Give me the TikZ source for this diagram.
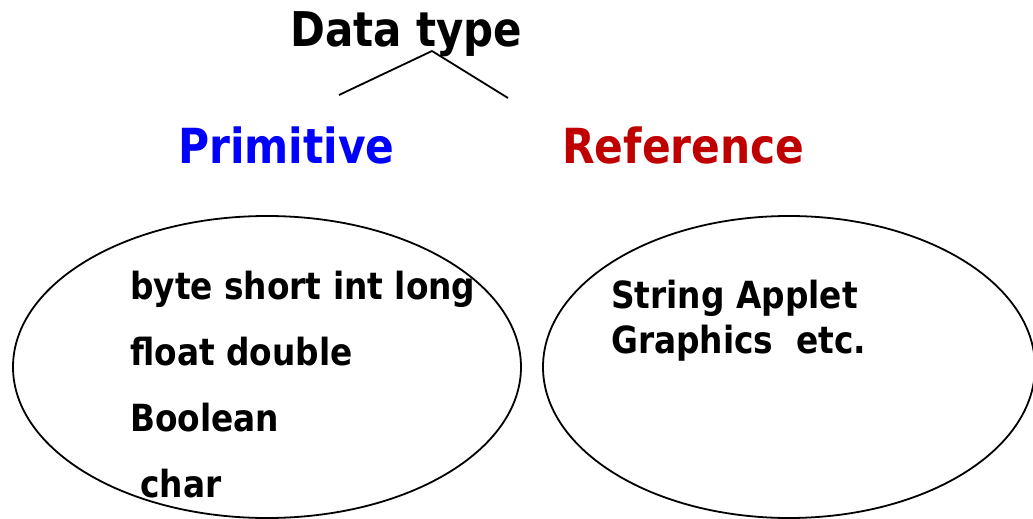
\documentclass[tikz,border=0pt]{standalone}
\usepackage{fontspec}
\usepackage{graphicx}
\setmainfont{DejaVu Sans}
\definecolor{primblue}{RGB}{0,0,255}
\definecolor{refred}{RGB}{192,0,0}
% taller glyph proportions for all labels
\newcommand{\tallbox}[1]{\scalebox{1}[1.14]{#1}}
\begin{document}
\begin{tikzpicture}[x=1pt,y=-1pt,
  title/.style={inner sep=0pt,anchor=base west,font=\fontsize{42}{42}\selectfont\bfseries},
  head/.style={inner sep=0pt,anchor=base west,font=\fontsize{42.4}{42.4}\selectfont\bfseries},
  item/.style={inner sep=0pt,anchor=base west,font=\fontsize{32.8}{32.8}\selectfont\bfseries},
  set/.style={draw=black,line width=1.8pt},
  branch/.style={draw=black,line width=1.8pt}]
\useasboundingbox (0,0) rectangle (1033,519);
\begin{scope}
\clip (0,0) rectangle (1033,519);
% category sets
\draw[set] (267,367) ellipse [x radius=254, y radius=151];
\draw[set] (789,367) ellipse [x radius=246, y radius=151];
\end{scope}
% title and its two branches
\node[title] (dt) at (290,47) {\tallbox{Data type}};
\coordinate (fork) at (432,51);
\coordinate (leftend) at (339,95);
\coordinate (rightend) at (508,98);
\draw[branch] (fork) -- (leftend);
\draw[branch] (fork) -- (rightend);
% category headings
\node[head,text=primblue] (prim) at (178,163) {\tallbox{Primitive}};
\node[head,text=refred] (ref) at (562,163) {\tallbox{Reference}};
% primitive types
\node[item] (p1) at (130,299) {\tallbox{byte short int long}};
\node[item] (p2) at (130,365) {\tallbox{float double}};
\node[item] (p3) at (130,431) {\tallbox{Boolean}};
\node[item] (p4) at (140,497) {\tallbox{char}};
% reference types
\node[item] (r1) at (611,308) {\tallbox{String Applet}};
\node[item] (r2) at (611,353) {\tallbox{Graphics\ \ etc.}};
\end{tikzpicture}
\end{document}
